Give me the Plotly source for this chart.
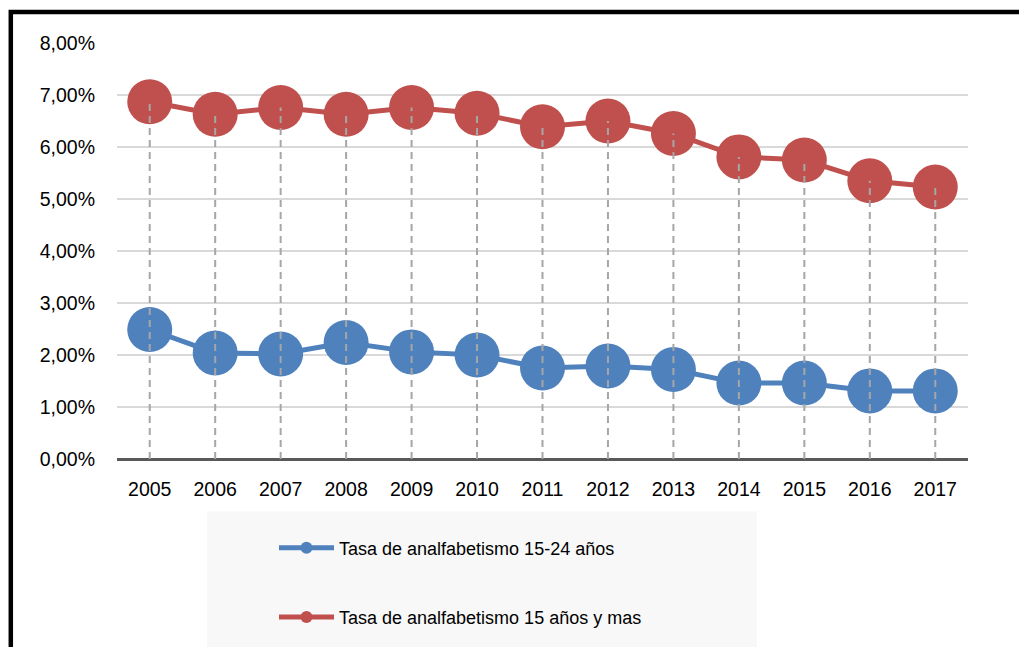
import plotly.graph_objects as go

years = ["2005", "2006", "2007", "2008", "2009", "2010", "2011", "2012", "2013", "2014", "2015", "2016", "2017"]
tasa_15_24 = [2.49, 2.04, 2.02, 2.24, 2.06, 2.00, 1.75, 1.79, 1.72, 1.46, 1.46, 1.31, 1.31]
tasa_15_mas = [6.87, 6.63, 6.76, 6.63, 6.76, 6.65, 6.39, 6.50, 6.26, 5.81, 5.75, 5.35, 5.23]
y_tickvals = [0, 1, 2, 3, 4, 5, 6, 7, 8]
y_ticktext = ["0,00%", "1,00%", "2,00%", "3,00%", "4,00%", "5,00%", "6,00%", "7,00%", "8,00%"]
name_blue = "Tasa de analfabetismo 15-24 años"
name_red = "Tasa de analfabetismo 15 años y mas"

FONT = "Liberation Sans Narrow, Arial Narrow, Liberation Sans, Arial, sans-serif"
BLUE = "#4F81BD"
RED = "#C0504D"

fig = go.Figure()
fig.add_trace(go.Scatter(
    x=years, y=tasa_15_24, mode="lines+markers", name=name_blue,
    line=dict(color=BLUE, width=5), marker=dict(color=BLUE, size=45),
    legendgroup="a",
))
fig.add_trace(go.Scatter(
    x=years, y=tasa_15_mas, mode="lines+markers", name=name_red,
    line=dict(color=RED, width=5), marker=dict(color=RED, size=45),
    legendgroup="b",
))

# drop lines from the upper series to the axis
dx, dy = [], []
for yr, v in zip(years, tasa_15_mas):
    dx += [yr, yr, None]
    dy += [0, v, None]
fig.add_trace(go.Scatter(
    x=dx, y=dy, mode="lines", showlegend=False, hoverinfo="skip",
    line=dict(color="#A6A6A6", width=2, dash="7px,5px"),
))

# figure is placed at an 8px page offset; work in figure coordinates
W, H = 1019, 639
L, R, T, B = 109, 59, 35, 185
pw, ph = W - L - R, H - T - B

def px(x):
    return (x - L) / pw

def py(y):
    return (H - B - y) / ph

fig.add_shape(type="rect", xref="paper", yref="paper",
              x0=px(199), x1=px(749), y0=py(507), y1=py(700),
              fillcolor="#F8F8F8", line=dict(width=0), layer="below")
fig.add_shape(type="rect", xref="paper", yref="paper",
              x0=px(2.8), x1=px(1060), y0=py(3.7), y1=py(700),
              fillcolor="rgba(0,0,0,0)", line=dict(color="black", width=4.5))

fig.update_layout(
    width=W, height=H,
    margin=dict(l=L, r=R, t=T, b=B, pad=0),
    paper_bgcolor="white", plot_bgcolor="white",
    font=dict(family=FONT, size=19.5, color="black"),
    showlegend=True,
    legend=dict(
        orientation="v", x=px(266), xanchor="left", y=py(525), yanchor="top",
        bgcolor="rgba(0,0,0,0)", font=dict(family=FONT, size=18, color="black"),
        itemsizing="constant", tracegroupgap=43, itemwidth=55,
    ),
    xaxis=dict(
        type="category", range=[-0.5, 12.5], showgrid=False, zeroline=False,
        showline=False, ticks="", ticklabelstandoff=16,
        tickfont=dict(family=FONT, size=19.5),
    ),
    yaxis=dict(
        range=[0, 8], tickvals=y_tickvals, ticktext=y_ticktext,
        showgrid=True, gridcolor="#D9D9D9", gridwidth=2,
        zeroline=True, zerolinecolor="#595959", zerolinewidth=3,
        showline=False, ticks="", ticklabelstandoff=21,
        tickfont=dict(family=FONT, size=19.5),
    ),
)

fig.write_html("out.html")
